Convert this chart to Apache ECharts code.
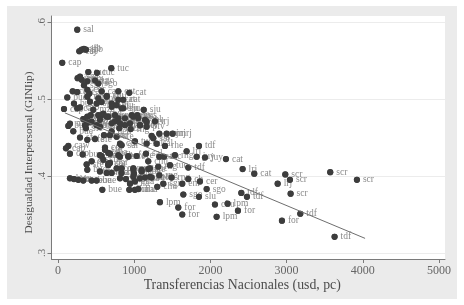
<!DOCTYPE html>
<html><head><meta charset="utf-8">
<style>html,body{margin:0;padding:0;background:#fff}#c{width:464px;height:305px;filter:blur(.45px)}</style>
<script src="https://cdn.jsdelivr.net/npm/echarts@6/dist/echarts.min.js"></script>
</head><body><div id="c"></div>
<script>
const xTicks=[0,1000,2000,3000,4000,5000];
const yTicks=[0.3,0.4,0.5,0.6];
const transfers=[253,280,311,341,367,56,700,398,512,258,289,311,385,486,529,341,193,253,385,411,573,792,936,385,122,210,79,253,289,529,639,705,770,857,508,573,1125,
332,385,429,529,595,660,748,792,879,989,1041,1142,1273,1076,1163,954,879,551,507,385,157,136,201,367,289,385,486,604,704,805,770,682,814,1010,1229,1330,1426,1505,1295,1251,1404,1163,136,105,617,835,1850,
157,324,573,660,814,923,1032,1155,1185,1330,1391,1470,1535,1688,1820,1929,2204,1710,376,442,385,551,639,704,660,682,770,835,989,998,1098,1185,1229,1330,1142,814,892,989,1010,945,936,1010,1054,1382,1303,1491,1710,1863,1631,1951,1645,1850,1338,1579,1631,2060,2226,2082,157,210,267,332,442,507,582,
2423,2576,2983,3573,3923,3044,2883,3053,2406,2480,3180,2939,3630,2362,
420,463,573,639,705,792,836,857,967,1054,1164,551,442,639,748,814,945,1076,354,705,
551,617,682,595,660,792,923,836,989,1098,1207,1207,1076,1316];
const gini=[.590,.562,.564,.565,.564,.547,.540,.535,.534,.527,.529,.525,.523,.524,.520,.518,.510,.509,.512,.507,.510,.510,.508,.503,.502,.494,.487,.488,.489,.501,.504,.494,.492,.488,.494,.496,.486,
.474,.477,.479,.479,.481,.477,.471,.475,.475,.477,.479,.473,.471,.466,.464,.461,.466,.464,.466,.469,.468,.465,.458,.462,.450,.447,.448,.453,.458,.462,.451,.453,.442,.445,.452,.455,.455,.455,.442,.449,.439,.442,.439,.436,.437,.440,.439,
.429,.428,.426,.430,.425,.425,.426,.429,.419,.425,.425,.414,.427,.432,.425,.424,.422,.411,.415,.419,.408,.406,.404,.404,.414,.417,.410,.404,.410,.403,.408,.409,.398,.401,.398,.397,.396,.399,.393,.390,.382,.382,.383,.390,.386,.398,.396,.393,.390,.383,.376,.373,.366,.359,.350,.363,.364,.347,.397,.396,.395,.394,.394,.394,.382,
.409,.403,.402,.405,.395,.395,.390,.377,.378,.373,.351,.342,.321,.355,
.4965,.486,.479,.503,.490,.499,.488,.499,.479,.475,.4705,.473,.4705,.477,.479,.4685,.4685,.466,.466,.4685,
.427,.434,.429,.421,.416,.427,.426,.410,.408,.406,.410,.399,.397,.412];
const codes=["sal","caj","sjb","sjb","sjb","cap","tuc","tuc","tuc","jujuy","sju","mza","mza","sgo","sgo","sgo","cba","cat","cor","slt","cat","cat","cat","mis","bue","bue","cap","cap","cap","chu","slu","cor","sju","sju","sju","cha","sju",
"mza","mza","cor","rng","rng","neu","neu","rng","thc","mis","mis","sal","lrj","ptv","ptv","rng","mis","bue","bue","mis","mza","bue","bue","sfe","sfe","sfe","sfe","neu","neu","mza","sfe","cor","cor","tuc","rng","mrj","mrj","mrj","sal","sal","rhe","sal","caw","cap","cor","sal","tdf",
"cap","bue","cor","cba","cba","sfe","sfe","sal","chu","sal","tuc","tuc","rng","lrj","juy","juy","cat","tdf","sfe","sfe","bue","mza","mza","mza","sfe","cor","cor","mis","mis","mis","cba","sfe","tuc","rng","cba","cba","cha","cha","cha","cha","cha","cha","cha","sgr","chu","rng","ch","cer","enr","sgo","sgo","slu","lpm","for","for","chu","lpm","lpm","bue","bue","bue","bue","bue","bue","bue",
"lrj","cat","scr","scr","scr","scr","lrj","scr","tdf","tdf","tdf","for","tdf","for",
"cor","mza","neu","chu","sju","cat","sju","cat","mis","ptv","ptv","rng","mza","neu","rng","mis","rng","ptv","mza","neu",
"sfe","sfe","cor","sfe","cor","cba","sfe","cor","mis","cba","tuc","cba","cha","rng"];
const fitX=[90,4030];
const fitY=[.482,.319];
const labelled=transfers.map((x,i)=>({value:[x,gini[i]],label:{formatter:codes[i]}}));
const dots=transfers.map((x,i)=>[x,gini[i]]);
const serif='"Liberation Serif","DejaVu Serif",serif';
const chart=echarts.init(document.getElementById('c'));
chart.setOption({
  animation:false,
  backgroundColor:'#fff',
  graphic:[{type:'rect',z:-10,shape:{x:7,y:6,width:450,height:293},style:{fill:'#ebebeb'}}],
  grid:{left:51.5,right:19,top:16,bottom:46,show:true,backgroundColor:'#fff',borderWidth:0},
  xAxis:{type:'value',min:-85,max:5079,
    name:'Transferencias Nacionales (usd, pc)',nameLocation:'middle',nameGap:19,nameMoveOverlap:false,
    nameTextStyle:{fontFamily:serif,fontSize:13.8,color:'#4c4c4c',padding:[0,12,0,0]},
    axisLine:{onZero:false,lineStyle:{color:'#7a7a7a',width:1}},
    axisTick:{show:true,length:4,customValues:xTicks,lineStyle:{color:'#7a7a7a'}},
    axisLabel:{customValues:xTicks,fontFamily:serif,fontSize:12,color:'#666',margin:6,showMinLabel:true,showMaxLabel:true,
      formatter:v=>String(v)},
    splitLine:{show:false}},
  yAxis:{type:'value',min:.2922,max:.6078,
    name:'Desigualdad Interpersonal (GINIip)',nameLocation:'middle',nameGap:17,nameMoveOverlap:false,
    nameTextStyle:{fontFamily:serif,fontSize:11.3,color:'#4c4c4c',padding:[0,0,0,-30]},
    axisLine:{onZero:false,show:true,lineStyle:{color:'#7a7a7a',width:1}},
    axisTick:{show:true,length:4,customValues:yTicks,lineStyle:{color:'#7a7a7a'}},
    axisLabel:{customValues:yTicks,rotate:90,fontFamily:serif,fontSize:11,color:'#666',margin:4,
      formatter:v=>String(+v.toFixed(1)).replace(/^0/,'')},
    splitLine:{show:true,lineStyle:{color:'#ececec',width:1}}},
  series:[
    {type:'scatter',z:1,symbolSize:6,itemStyle:{color:'#3d3d3d',opacity:1},data:labelled,
     label:{show:true,position:'right',distance:3,fontFamily:serif,fontSize:9.5,color:'#8a8a8a'},labelLayout:{hideOverlap:false}},
    {type:'scatter',z:2,symbolSize:6.2,itemStyle:{color:'#3d3d3d',opacity:1},data:dots},
    {type:'line',symbol:'none',silent:true,z:3,lineStyle:{color:'#6e6e6e',width:1},data:fitX.map((x,i)=>[x,fitY[i]])}
  ]
});
</script></body></html>
